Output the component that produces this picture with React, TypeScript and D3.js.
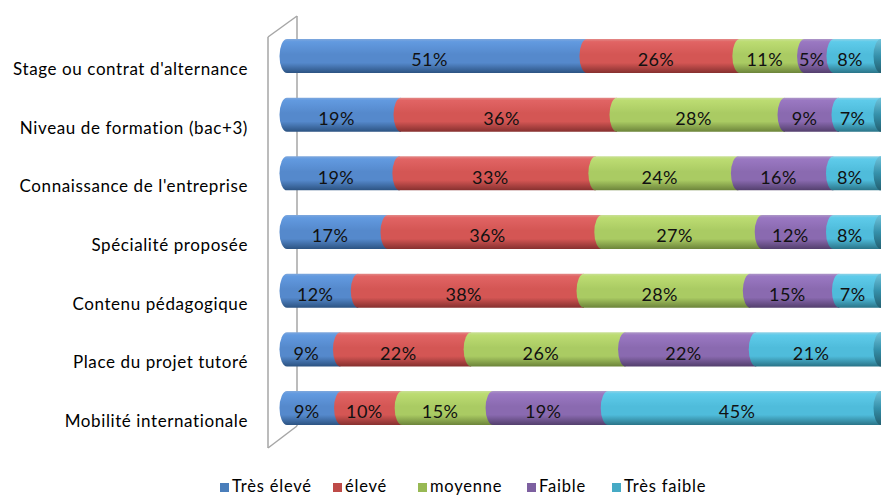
import React from "react";
import * as d3 from "d3";

const categories = [
  "Stage ou contrat d'alternance",
  "Niveau de formation (bac+3)",
  "Connaissance de l'entreprise",
  "Spécialité proposée",
  "Contenu pédagogique",
  "Place du projet tutoré",
  "Mobilité internationale",
];
const seriesNames = ["Très élevé", "élevé", "moyenne", "Faible", "Très faible"];
const tresEleve = [51, 19, 19, 17, 12, 9, 9];
const eleve = [26, 36, 33, 36, 38, 22, 10];
const moyenne = [11, 28, 24, 27, 28, 26, 15];
const faible = [5, 9, 16, 12, 15, 22, 19];
const tresFaible = [8, 7, 8, 8, 7, 21, 45];

const W = 881;
const H = 497;
const FONT = "Lato, 'Open Sans', sans-serif";

const palettes = [
  { legend: "#4a7ebb", top: "#7ea7dc", light: "#629ae0", base: "#5589cc", dark: "#2c5382" },
  { legend: "#be4b48", top: "#e28a88", light: "#e16464", base: "#d45654", dark: "#86302f" },
  { legend: "#98b954", top: "#c9e095", light: "#bcdc72", base: "#aacb63", dark: "#6c843a" },
  { legend: "#7d60a0", top: "#ad97c7", light: "#9a78c2", base: "#8a6ab0", dark: "#533f6d" },
  { legend: "#46aac5", top: "#8fd2e6", light: "#5ecbea", base: "#4fbcdb", dark: "#2a7488" },
];

const legendX = [220, 333, 418, 527, 612];

export default function App() {
  const rows = categories.map((c, i) => ({
    cat: c,
    [seriesNames[0]]: tresEleve[i],
    [seriesNames[1]]: eleve[i],
    [seriesNames[2]]: moyenne[i],
    [seriesNames[3]]: faible[i],
    [seriesNames[4]]: tresFaible[i],
  }));
  const stacked = d3.stack<any>().keys(seriesNames).offset(d3.stackOffsetExpand)(rows);
  const valuesBySeries = [tresEleve, eleve, moyenne, faible, tresFaible];

  const step = 58.67;
  const pad = 0.42;
  const y = d3
    .scaleBand<string>()
    .domain(categories)
    .range([39 - step * pad / 2, 39 - step * pad / 2 + step * categories.length])
    .paddingInner(pad)
    .paddingOuter(pad / 2);
  const x = d3.scaleLinear().domain([0, 1]).range([287, 881]);
  const bw = y.bandwidth();
  const rx = 7.5;
  const ry = bw / 2;

  const segPath = (x0: number, x1: number, top: number) => {
    const bot = top + bw;
    return `M${x0},${top}L${x1},${top}L${x1},${bot}L${x0},${bot}A${rx},${ry} 0 0 1 ${x0},${top}Z`;
  };

  return (
    <svg width={W} height={H} style={{ position: "absolute", left: 0, top: 0 }} fontFamily={FONT}>
      <defs>
        {palettes.map((p, i) => (
          <linearGradient key={i} id={`g${i}`} x1="0" y1="0" x2="0" y2="1">
            <stop offset="0" stopColor={p.top} />
            <stop offset="0.08" stopColor={p.light} />
            <stop offset="0.45" stopColor={p.base} />
            <stop offset="0.7" stopColor={p.base} />
            <stop offset="1" stopColor={p.dark} />
          </linearGradient>
        ))}
        <linearGradient id="gend" x1="0" y1="0" x2="0" y2="1">
          <stop offset="0" stopColor="#6fc2da" />
          <stop offset="0.5" stopColor="#3590aa" />
          <stop offset="1" stopColor="#235f70" />
        </linearGradient>
      </defs>
      <rect width={W} height={H} fill="#fff" />

      <g stroke="#a6a6a6" strokeWidth={1.5} fill="none">
        <line x1={297} y1={16} x2={297} y2={426} />
        <line x1={268} y1={37} x2={297} y2={16} />
        <line x1={268} y1={448} x2={297} y2={426} />
        <line x1={268} y1={37} x2={268} y2={448} />
      </g>

      {categories.map((c, ri) => {
        const top = y(c)!;
        return (
          <g key={c}>
            {stacked.map((s, si) => {
              const d = s[ri];
              return <path key={si} d={segPath(x(d[0]), x(d[1]), top)} fill={`url(#g${si})`} />;
            })}
            <ellipse cx={x(1)} cy={top + ry} rx={rx} ry={ry} fill="url(#gend)" />
          </g>
        );
      })}

      {categories.map((c, ri) => {
        const top = y(c)!;
        return stacked.map((s, si) => {
          const d = s[ri];
          const v = valuesBySeries[si][ri];
          return (
            <text
              key={c + si}
              x={(x(d[0]) + x(d[1])) / 2 - rx}
              y={top + 21}
              dy="0.35em"
              textAnchor="middle"
              fontSize={18}
              letterSpacing={0.4}
              fill="#111"
            >
              {v}%
            </text>
          );
        });
      })}

      {categories.map((c) => (
        <text
          key={c}
          x={248}
          y={y(c)! + 36}
          textAnchor="end"
          fontSize={17}
          letterSpacing={0.6}
          fill="#000"
        >
          {c}
        </text>
      ))}

      {seriesNames.map((n, i) => (
        <g key={n}>
          <rect x={legendX[i]} y={483} width={9} height={9} fill={palettes[i].legend} />
          <text x={legendX[i] + 12} y={492} fontSize={16.5} letterSpacing={0.8} fill="#000">
            {n}
          </text>
        </g>
      ))}
    </svg>
  );
}
